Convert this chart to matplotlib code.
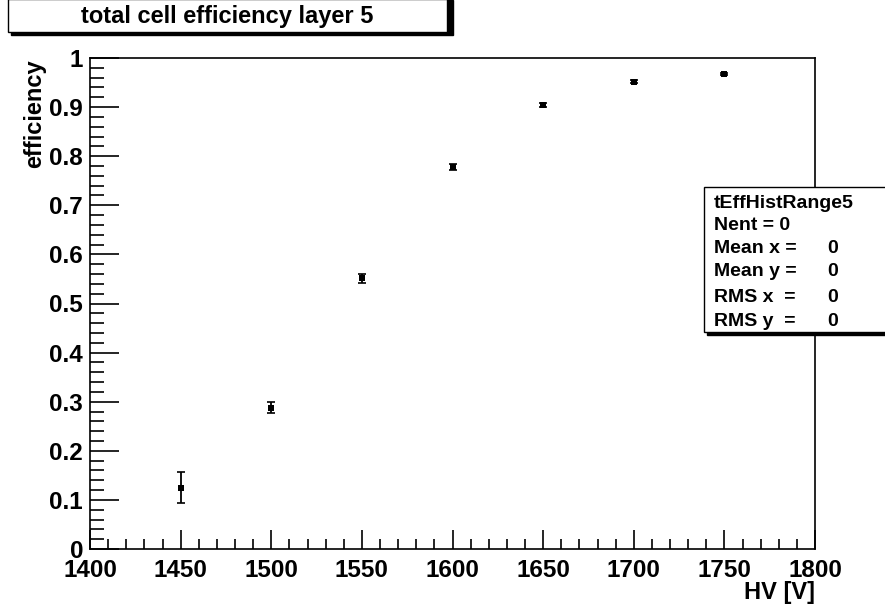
import matplotlib
matplotlib.use("Agg")
import matplotlib.pyplot as plt
from matplotlib.ticker import MultipleLocator
from matplotlib.patches import Rectangle

plt.rcParams['font.family'] = ['Liberation Sans', 'DejaVu Sans']
plt.rcParams['font.weight'] = 'bold'

hv = [1450, 1500, 1550, 1600, 1650, 1700, 1750]
eff = [0.125, 0.288, 0.551, 0.778, 0.904, 0.952, 0.967]
err = [0.031, 0.012, 0.010, 0.006, 0.004, 0.003, 0.002]

title = "total cell efficiency layer 5"
stats_lines = [("tEffHistRange5", ""), ("Nent = 0", ""), ("Mean x = ", "0"),
               ("Mean y = ", "0"), ("RMS x  = ", "0"), ("RMS y  = ", "0")]

W, H = 885, 606
fig = plt.figure(figsize=(W/100, H/100), dpi=100)
ax = fig.add_axes([90/W, 1-549/H, (815-90)/W, (549-58)/H])

ax.errorbar(hv, eff, yerr=err, fmt='none', ecolor='black', capsize=3.0,
            elinewidth=1.3, capthick=1.2)
ax.plot(hv, eff, 's', color='black', ms=4.2, markeredgewidth=0, linestyle='none')

ax.set_xlim(1400, 1800)
ax.set_ylim(0, 1)
ax.xaxis.set_major_locator(MultipleLocator(50))
ax.xaxis.set_minor_locator(MultipleLocator(10))
ax.yaxis.set_minor_locator(MultipleLocator(0.02))
ax.tick_params(which='both', direction='in', top=False, right=False, width=1.2)
ax.tick_params(axis='x', which='major', length=14, pad=7, labelsize=17.5)
ax.tick_params(axis='x', which='minor', length=7)
ax.tick_params(axis='y', which='major', length=21, pad=5, labelsize=17.5)
ax.tick_params(axis='y', which='minor', length=10)
ax.set_yticks([0, 0.1, 0.2, 0.3, 0.4, 0.5, 0.6, 0.7, 0.8, 0.9, 1.0])
ax.set_yticklabels(['0', '0.1', '0.2', '0.3', '0.4', '0.5', '0.6', '0.7', '0.8', '0.9', '1'])
for lab in ax.get_xticklabels() + ax.get_yticklabels():
    lab.set_fontweight('bold')
for s in ax.spines.values():
    s.set_linewidth(1.2)

fig.text(815/W, 1-593/H, "HV [V]", ha='right', va='center', fontsize=17, fontweight='bold')
fig.text(35/W, 1-59/H, "efficiency", ha='center', va='top', rotation=90, fontsize=17, fontweight='bold')

# title box with shadow
fig.patches.append(Rectangle((11/W, 1-35/H), (450-8)/W, 35/H, transform=fig.transFigure,
                             facecolor='black', edgecolor='black', zorder=1))
fig.patches.append(Rectangle((8/W, 1-32/H), (447-8)/W, 33/H, transform=fig.transFigure,
                             facecolor='white', edgecolor='black', linewidth=1, zorder=2))
fig.text(227/W, 1-16/H, title, ha='center', va='center', fontsize=17, fontweight='bold', zorder=3)

# stats box with shadow
fig.patches.append(Rectangle((707/W, 1-335/H), 200/W, (335-190)/H, transform=fig.transFigure,
                             facecolor='black', edgecolor='black', zorder=1))
fig.patches.append(Rectangle((704/W, 1-332/H), 200/W, (332-187)/H, transform=fig.transFigure,
                             facecolor='white', edgecolor='black', linewidth=1, zorder=2))
ys = [203, 225, 248, 272, 297, 321]
for (lab, val), y in zip(stats_lines, ys):
    fig.text(714/W, 1-y/H, lab, ha='left', va='center', fontsize=14, fontweight='bold', zorder=3)
    if val:
        fig.text(833/W, 1-y/H, val, ha='center', va='center', fontsize=14, fontweight='bold', zorder=3)

fig.savefig("out.png", dpi=100)
